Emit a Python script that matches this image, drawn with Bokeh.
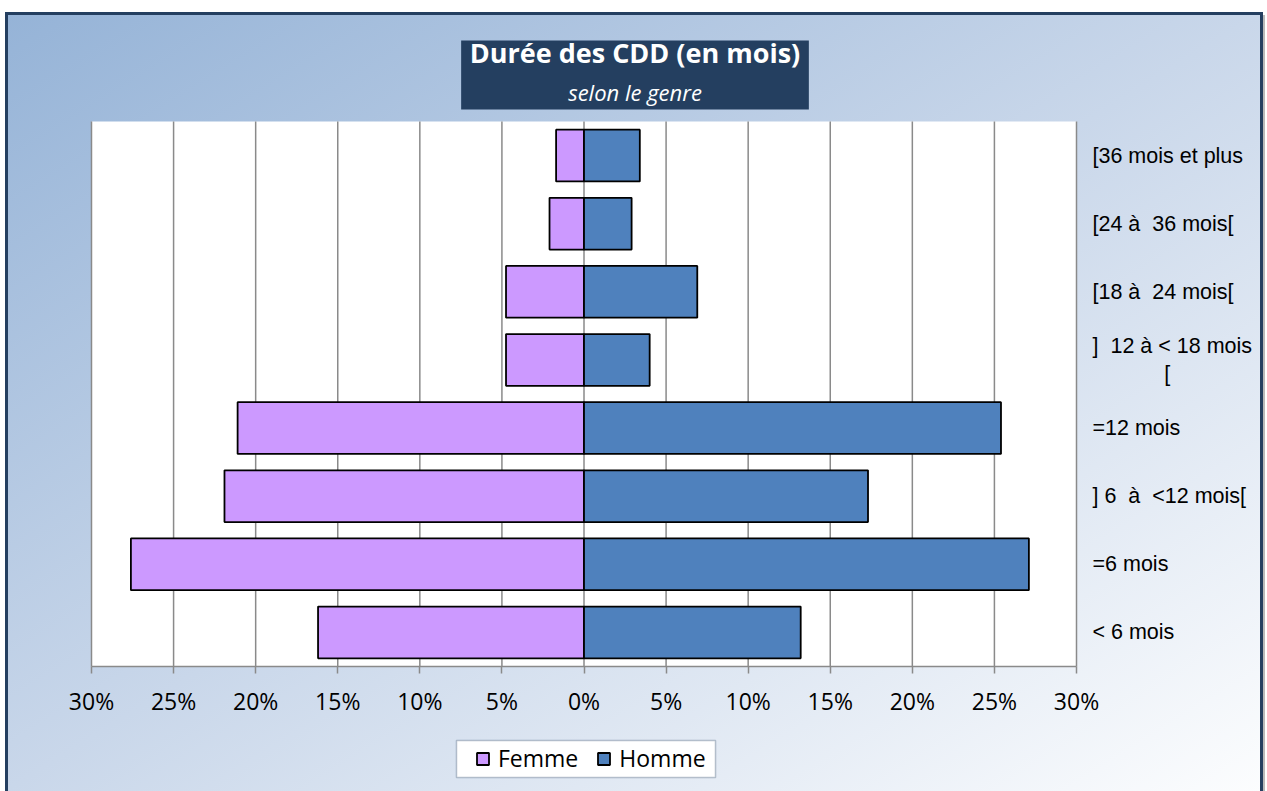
from bokeh.plotting import figure
from bokeh.models import (Range1d, FixedTicker, ColumnDataSource,
                          Legend, LegendItem, Label, BoxAnnotation)
from bokeh.embed import file_html
from bokeh.resources import INLINE

# ---------------- data ----------------
NB = "\u00a0"
categories = ["< 6 mois", "=6 mois", f"] 6 {NB}à {NB}<12 mois[", "=12 mois",
              f"] {NB}12 à < 18 mois\n" + NB * 12 + "[", f"[18 à {NB}24 mois[",
              f"[24 à {NB}36 mois[", "[36 mois et plus"]
femme = [16.2, 27.6, 21.9, 21.1, 4.75, 4.75, 2.1, 1.7]
homme = [13.2, 27.1, 17.3, 25.4, 4.0, 6.9, 2.9, 3.4]
tick_values = [-30, -25, -20, -15, -10, -5, 0, 5, 10, 15, 20, 25, 30]
tick_labels = ["30%", "25%", "20%", "15%", "10%", "5%", "0%",
               "5%", "10%", "15%", "20%", "25%", "30%"]
series_names = ["Femme", "Homme"]
title_text = "Durée des CDD (en mois)"
subtitle_text = "selon le genre"

# ---------------- style / layout ----------------
FEMME_COLOR = "#cc99ff"
HOMME_COLOR = "#4f81bd"
NAVY = "#243f60"
GRID = "#8a8a8a"

W, H = 1266, 791
AREA_L, AREA_R = 91, 1076          # white plot area, horizontal (px)
AREA_T, AREA_B = 121, 666          # white plot area, vertical (px)

n = len(categories)
ppu_y = (AREA_B - AREA_T) / n
y_start = -(H - AREA_B) / ppu_y
y_end = n + AREA_T / ppu_y
ppu_x = (AREA_R - AREA_L) / (tick_values[-1] - tick_values[0])
x_start = tick_values[0] - AREA_L / ppu_x
x_end = tick_values[-1] + (W - AREA_R) / ppu_x
ypos = [i + 0.5 for i in range(n)]

src = ColumnDataSource(dict(
    y=ypos,
    f_left=[-v for v in femme],
    f_right=[0] * n,
    h_left=[0] * n,
    h_right=homme,
))

p = figure(width=W, height=H,
           x_range=Range1d(x_start, x_end),
           y_range=Range1d(y_start, y_end),
           output_backend="svg", toolbar_location=None,
           y_axis_location="right",
           min_border_left=0, min_border_right=0,
           min_border_top=0, min_border_bottom=0)

bg = (f"linear-gradient({NAVY},{NAVY}) 5px 12px / 3px 100% no-repeat, "
      f"linear-gradient({NAVY},{NAVY}) 5px 12px / 1258px 3px no-repeat, "
      f"linear-gradient({NAVY},{NAVY}) 1260px 12px / 3px 100% no-repeat, "
      f"linear-gradient(#b9b9b9,#b9b9b9) 1263px 15px / 2px 100% no-repeat, "
      f"linear-gradient(to bottom right, #95b3d7 0%, #c9d7ea 50%, #fcfdfe 100%) 5px 12px / 1258px 779px no-repeat, "
      f"white")
p.styles = {"background": bg}
p.border_fill_color = None
p.background_fill_color = None
p.outline_line_color = None

# white plot area + vertical gridlines (in data space)
p.quad(left=tick_values[0], right=tick_values[-1], bottom=0, top=n,
       fill_color="white", line_color=None, level="underlay")
p.segment(x0=tick_values, y0=[0] * len(tick_values),
          x1=tick_values, y1=[n] * len(tick_values),
          line_color=GRID, line_width=1.5, level="underlay")

rf = p.hbar(y="y", left="f_left", right="f_right", height=0.76, source=src,
            fill_color=FEMME_COLOR, line_color="black", line_width=1.8)
rh = p.hbar(y="y", left="h_left", right="h_right", height=0.76, source=src,
            fill_color=HOMME_COLOR, line_color="black", line_width=1.8)

# x axis, pinned at the bottom of the plot area
xa = p.xaxis[0]
xa.fixed_location = 0
xa.bounds = (tick_values[0], tick_values[-1])
xa.ticker = FixedTicker(ticks=tick_values)
xa.major_label_overrides = {v: l for v, l in zip(tick_values, tick_labels)}
xa.axis_line_color = GRID
xa.axis_line_width = 1.5
xa.major_tick_line_color = GRID
xa.major_tick_line_width = 1.5
xa.major_tick_in = 0
xa.major_tick_out = 7
xa.minor_tick_line_color = None
xa.major_label_text_font = "Open Sans"
xa.major_label_text_font_size = "23px"
xa.major_label_text_color = "black"
xa.major_label_standoff = 11

# category axis, pinned at the right edge of the plot area
ya = p.yaxis[0]
ya.fixed_location = tick_values[-1]
ya.ticker = FixedTicker(ticks=ypos)
ya.major_label_overrides = {y: c for y, c in zip(ypos, categories)}
ya.axis_line_color = None
ya.major_tick_line_color = None
ya.minor_tick_line_color = None
ya.major_label_text_font = "Liberation Sans"
ya.major_label_text_font_size = "21.5px"
ya.major_label_text_color = "black"
ya.major_label_standoff = 10

p.xgrid.grid_line_color = None
p.ygrid.grid_line_color = None

# title box: navy box carried by the subtitle label, title on top of it
sub = Label(x=634.5, y=H - 74.5, x_units="screen", y_units="screen",
            text=subtitle_text, text_align="center", text_baseline="middle",
            text_font="Open Sans", text_font_style="italic",
            text_font_size="22px", text_color="white",
            background_fill_color=NAVY, background_fill_alpha=1.0,
            padding=dict(left=107, right=107, top=36, bottom=3))
title = Label(x=634.5, y=H - 51.6, x_units="screen", y_units="screen",
              text=title_text, text_align="center", text_baseline="middle",
              text_font="Open Sans", text_font_style="bold",
              text_font_size="27px", text_color="white")
p.add_layout(sub)
p.add_layout(title)

# legend frame + legend
legend_box = BoxAnnotation(left=456, right=715, bottom=H - 777, top=H - 740,
                           left_units="screen", right_units="screen",
                           bottom_units="screen", top_units="screen",
                           fill_color="white", fill_alpha=1.0,
                           line_color=NAVY, line_width=1.5, level="overlay")
p.add_layout(legend_box)

legend = Legend(items=[LegendItem(label=series_names[0], renderers=[rf]),
                       LegendItem(label=series_names[1], renderers=[rh])],
                orientation="horizontal", location=(475, H - 774),
                glyph_width=15, glyph_height=15, label_standoff=8, spacing=18,
                padding=0, margin=0,
                label_text_font="Open Sans", label_text_font_size="23px",
                label_text_color="black",
                border_line_color=None, background_fill_alpha=0)
p.add_layout(legend, "center")

open("out.html", "w").write(file_html(p, INLINE))
